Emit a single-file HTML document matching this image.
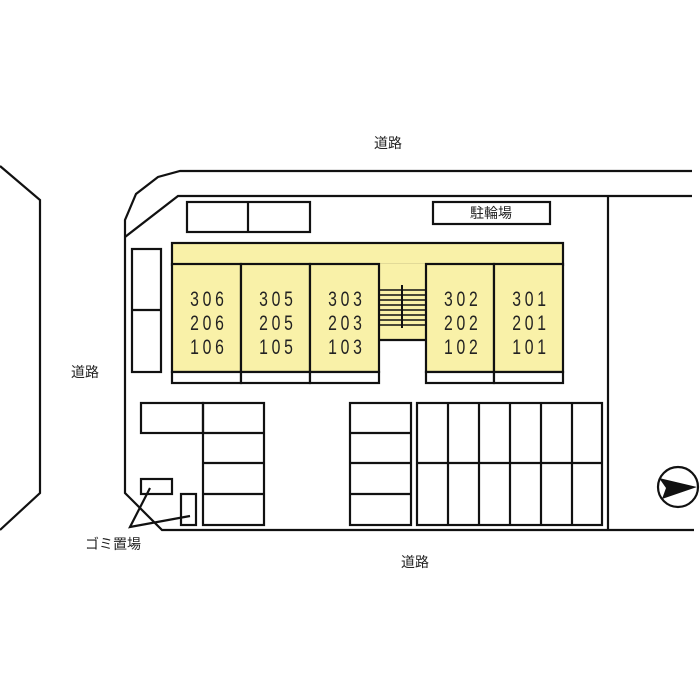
<!DOCTYPE html>
<html><head><meta charset="utf-8"><style>
html,body{margin:0;padding:0;background:#fff;width:700px;height:700px;overflow:hidden}
svg text{font-family:"Liberation Sans","Noto Sans CJK JP",sans-serif;fill:#222}
</style></head><body>
<svg width="700" height="700" viewBox="0 0 700 700" xmlns="http://www.w3.org/2000/svg">
<g fill="none" stroke="#111" stroke-width="2.2">
<polyline points="0,166 40,200 40,493 0,530"/>
<polyline points="692,171 180,171 158,177 136,194 125,220 125,493 162,530 694,530"/>
<polyline points="692,196 178,196 125,237"/>
<line x1="608" y1="196" x2="608" y2="530"/>
</g>
<g stroke="#111" stroke-width="2.2">
<rect x="187" y="202" width="123" height="30" fill="#fff"/>
<line x1="248" y1="202" x2="248" y2="232"/>
<rect x="433" y="202" width="117" height="22" fill="#fff"/>
<rect x="132" y="249" width="29" height="123" fill="#fff"/>
<line x1="132" y1="310" x2="161" y2="310"/>
<rect x="172" y="243" width="391" height="22" fill="#f9f1a8"/>
<rect x="379" y="264" width="47" height="76" fill="#f9f1a8" stroke="none"/>
<line x1="379" y1="340" x2="426" y2="340"/>
<rect x="172" y="264" width="69" height="108" fill="#f9f1a8"/>
<rect x="241" y="264" width="69" height="108" fill="#f9f1a8"/>
<rect x="310" y="264" width="69" height="108" fill="#f9f1a8"/>
<rect x="426" y="264" width="68" height="108" fill="#f9f1a8"/>
<rect x="494" y="264" width="69" height="108" fill="#f9f1a8"/>
<rect x="172" y="372" width="69" height="11" fill="#fff"/>
<rect x="241" y="372" width="69" height="11" fill="#fff"/>
<rect x="310" y="372" width="69" height="11" fill="#fff"/>
<rect x="426" y="372" width="68" height="11" fill="#fff"/>
<rect x="494" y="372" width="69" height="11" fill="#fff"/>
</g>
<g stroke="#111" stroke-width="1.6">
<line x1="379" y1="290" x2="426" y2="290"/><line x1="379" y1="295" x2="426" y2="295"/>
<line x1="379" y1="300" x2="426" y2="300"/><line x1="379" y1="305" x2="426" y2="305"/>
<line x1="379" y1="310" x2="426" y2="310"/><line x1="379" y1="315" x2="426" y2="315"/>
<line x1="379" y1="320" x2="426" y2="320"/><line x1="379" y1="325" x2="426" y2="325"/>
<line x1="402" y1="285" x2="402" y2="328" stroke-width="2"/>
</g>
<g font-size="21" text-anchor="middle" letter-spacing="5" transform="scale(0.75,1)">
<text x="278.5" y="306">306</text><text x="278.5" y="330">206</text><text x="278.5" y="354">106</text>
<text x="370.5" y="306">305</text><text x="370.5" y="330">205</text><text x="370.5" y="354">105</text>
<text x="462.5" y="306">303</text><text x="462.5" y="330">203</text><text x="462.5" y="354">103</text>
<text x="617" y="306">302</text><text x="617" y="330">202</text><text x="617" y="354">102</text>
<text x="708" y="306">301</text><text x="708" y="330">201</text><text x="708" y="354">101</text>
</g>
<g fill="none" stroke="#111" stroke-width="2.2">
<rect x="141" y="403" width="62" height="30"/>
<rect x="203" y="403" width="61" height="122"/>
<line x1="203" y1="433" x2="264" y2="433"/><line x1="203" y1="463" x2="264" y2="463"/><line x1="203" y1="494" x2="264" y2="494"/>
<rect x="350" y="403" width="61" height="122"/>
<line x1="350" y1="433" x2="411" y2="433"/><line x1="350" y1="463" x2="411" y2="463"/><line x1="350" y1="494" x2="411" y2="494"/>
<rect x="417" y="403" width="185" height="122"/>
<line x1="417" y1="463" x2="602" y2="463"/>
<line x1="448" y1="403" x2="448" y2="525"/><line x1="479" y1="403" x2="479" y2="525"/>
<line x1="510" y1="403" x2="510" y2="525"/><line x1="541" y1="403" x2="541" y2="525"/>
<line x1="572" y1="403" x2="572" y2="525"/>
<rect x="141" y="479" width="31" height="15"/>
<rect x="181" y="494" width="15" height="31"/>
<polyline points="150,488 130,527 190,516"/>
<circle cx="678" cy="487" r="20"/>
</g>
<polygon points="659,478 697,487 662,499 666,488" fill="#111"/>
<g font-size="14" text-anchor="middle">
<text x="388" y="148">道路</text>
<text x="85" y="377">道路</text>
<text x="415" y="567">道路</text>
<text x="491" y="218">駐輪場</text>
<text x="113" y="549">ゴミ置場</text>
</g>
</svg>
</body></html>
